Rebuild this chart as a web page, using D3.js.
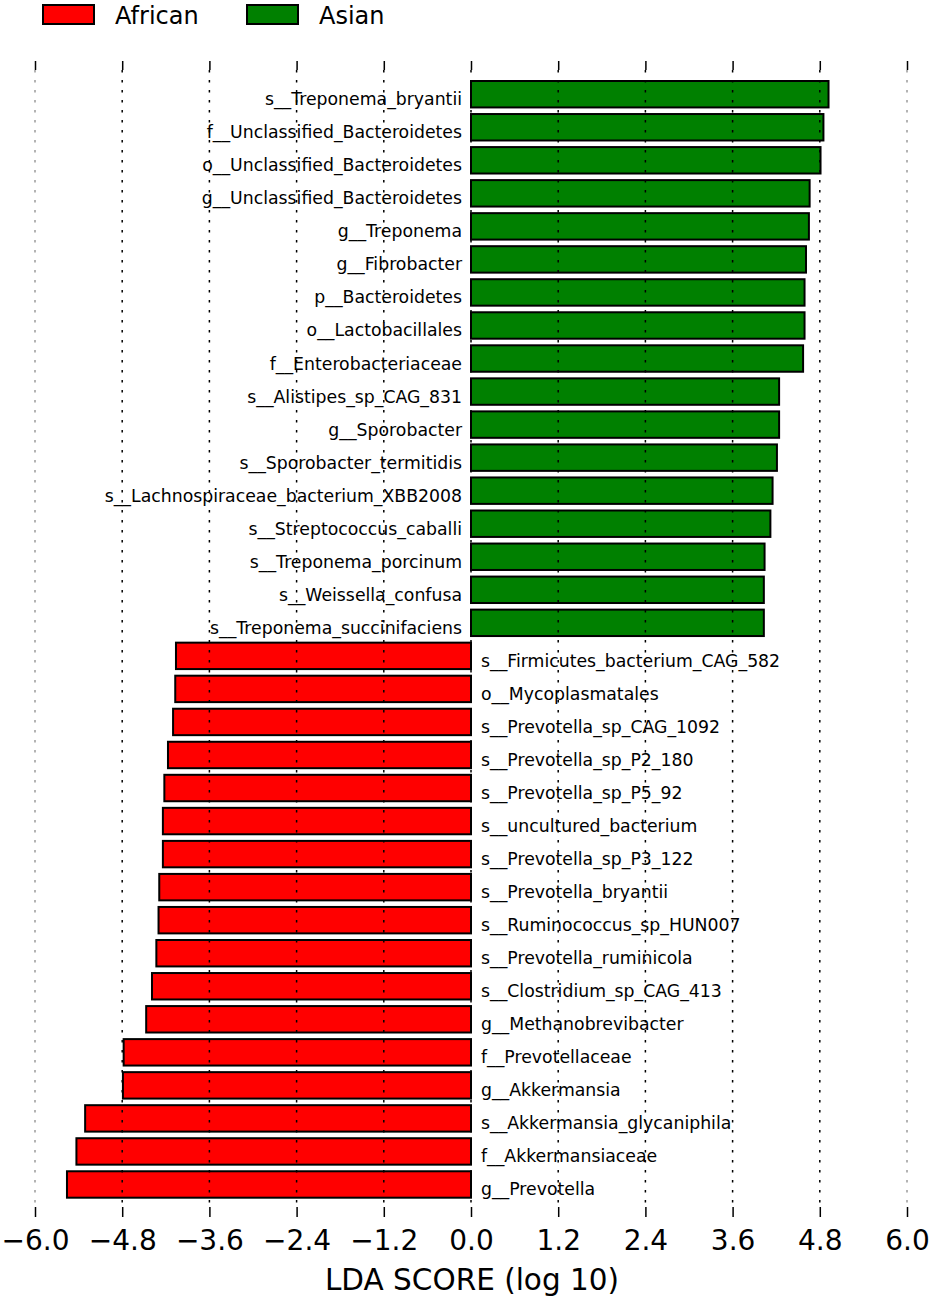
<!DOCTYPE html>
<html>
<head>
<meta charset="utf-8">
<script src="https://cdn.jsdelivr.net/npm/d3@7"></script>
<style>
  html, body { margin: 0; padding: 0; background: white; }
  svg { display: block; }
</style>
</head>
<body>
<div id="drawing"></div>
<script>
'use strict';

// taxa, top to bottom
const taxa = [
  's__Treponema_bryantii',
  'f__Unclassified_Bacteroidetes',
  'o__Unclassified_Bacteroidetes',
  'g__Unclassified_Bacteroidetes',
  'g__Treponema',
  'g__Fibrobacter',
  'p__Bacteroidetes',
  'o__Lactobacillales',
  'f__Enterobacteriaceae',
  's__Alistipes_sp_CAG_831',
  'g__Sporobacter',
  's__Sporobacter_termitidis',
  's__Lachnospiraceae_bacterium_XBB2008',
  's__Streptococcus_caballi',
  's__Treponema_porcinum',
  's__Weissella_confusa',
  's__Treponema_succinifaciens',
  's__Firmicutes_bacterium_CAG_582',
  'o__Mycoplasmatales',
  's__Prevotella_sp_CAG_1092',
  's__Prevotella_sp_P2_180',
  's__Prevotella_sp_P5_92',
  's__uncultured_bacterium',
  's__Prevotella_sp_P3_122',
  's__Prevotella_bryantii',
  's__Ruminococcus_sp_HUN007',
  's__Prevotella_ruminicola',
  's__Clostridium_sp_CAG_413',
  'g__Methanobrevibacter',
  'f__Prevotellaceae',
  'g__Akkermansia',
  's__Akkermansia_glycaniphila',
  'f__Akkermansiaceae',
  'g__Prevotella'
];

const groups = [
  'Asian', 'Asian', 'Asian', 'Asian', 'Asian', 'Asian', 'Asian', 'Asian', 'Asian',
  'Asian', 'Asian', 'Asian', 'Asian', 'Asian', 'Asian', 'Asian', 'Asian',
  'African', 'African', 'African', 'African', 'African', 'African', 'African', 'African',
  'African', 'African', 'African', 'African', 'African', 'African', 'African', 'African', 'African'
];

const lda = [
  4.92, 4.85, 4.81, 4.66, 4.65, 4.61, 4.59, 4.59, 4.57,
  4.24, 4.24, 4.21, 4.15, 4.12, 4.04, 4.03, 4.03,
  -4.06, -4.07, -4.10, -4.17, -4.22, -4.24, -4.24, -4.29,
  -4.30, -4.33, -4.39, -4.47, -4.78, -4.79, -5.31, -5.43, -5.56
];

const legend_names = ['African', 'Asian'];
const legend_colors = ['#ff0000', '#008000'];
const tick_values = [-6.0, -4.8, -3.6, -2.4, -1.2, 0.0, 1.2, 2.4, 3.6, 4.8, 6.0];
const axis_title = 'LDA SCORE (log 10)';

const rows = taxa.map((t, i) => ({name: t, group: groups[i], value: lda[i]}));
const color = d3.scaleOrdinal().domain(legend_names).range(legend_colors);

const W = 935, H = 1302;
const x = d3.scaleLinear().domain([-6, 6]).range([35, 907]);
const y = d3.scaleBand().domain(taxa).range([77.7, 1201]).paddingInner(0.2).paddingOuter(0.1);

const svg = d3.select('#drawing')
  .append('svg')
  .attr('width', W)
  .attr('height', H)
  .style('font-family', '"DejaVu Sans", sans-serif');

// bars
svg.append('g').attr('id', 'bars')
  .selectAll('rect')
  .data(rows)
  .enter()
  .append('rect')
  .attr('x', d => Math.min(x(0), x(d.value)))
  .attr('y', d => y(d.name))
  .attr('width', d => Math.abs(x(d.value) - x(0)))
  .attr('height', y.bandwidth())
  .style('fill', d => color(d.group))
  .style('stroke', 'black')
  .style('stroke-width', 2);

// dotted grid over the bars
const top_y = 70, bottom_y = 1207;
svg.append('g').attr('id', 'grid')
  .selectAll('line')
  .data(tick_values)
  .enter()
  .append('line')
  .attr('x1', d => x(d))
  .attr('x2', d => x(d))
  .attr('y1', top_y)
  .attr('y2', bottom_y)
  .style('stroke', d => Math.abs(d) === 6 ? '#9a9a9a' : 'black')
  .style('stroke-width', 1.5)
  .style('stroke-dasharray', '2.5,7.5');

// labels
svg.append('g').attr('id', 'labels')
  .selectAll('text')
  .data(rows)
  .enter()
  .append('text')
  .text(d => d.name)
  .attr('x', d => d.value > 0 ? x(0) - 9 : x(0) + 10)
  .attr('y', d => y(d.name) + y.bandwidth() / 2 + 11)
  .attr('text-anchor', d => d.value > 0 ? 'end' : 'start')
  .style('font-size', '17.3px')
  .style('fill', 'black');

// axes
const fmt = d => (d < 0 ? '\u2212' : '') + Math.abs(d).toFixed(1);

const top_axis = svg.append('g')
  .attr('transform', `translate(0,${top_y})`)
  .call(d3.axisTop(x).tickValues(tick_values).tickSize(9).tickFormat(''));
top_axis.select('.domain').remove();
top_axis.selectAll('.tick line').style('stroke', 'black').style('stroke-width', 1.5);

const bottom_axis = svg.append('g')
  .attr('transform', `translate(0,${bottom_y})`)
  .call(d3.axisBottom(x).tickValues(tick_values).tickSize(10).tickPadding(13).tickFormat(fmt));
bottom_axis.select('.domain').remove();
bottom_axis.selectAll('.tick line').style('stroke', 'black').style('stroke-width', 1.5);
bottom_axis.selectAll('.tick text')
  .style('font-family', '"DejaVu Sans", sans-serif')
  .style('font-size', '28px')
  .style('fill', 'black');

svg.append('text')
  .text(axis_title)
  .attr('x', x(0) + 1)
  .attr('y', 1290)
  .attr('text-anchor', 'middle')
  .style('font-size', '29.5px')
  .style('fill', 'black');

// legend
const legend = svg.append('g').attr('id', 'legend');
const legend_x = [43, 247];
legend.selectAll('rect')
  .data(legend_names)
  .enter()
  .append('rect')
  .attr('x', (d, i) => legend_x[i])
  .attr('y', 5)
  .attr('width', 51)
  .attr('height', 19)
  .style('fill', d => color(d))
  .style('stroke', 'black')
  .style('stroke-width', 2);
legend.selectAll('text')
  .data(legend_names)
  .enter()
  .append('text')
  .text(d => d)
  .attr('x', (d, i) => legend_x[i] + 72)
  .attr('y', 23.5)
  .style('font-size', '24px')
  .style('fill', 'black');
</script>
</body>
</html>
